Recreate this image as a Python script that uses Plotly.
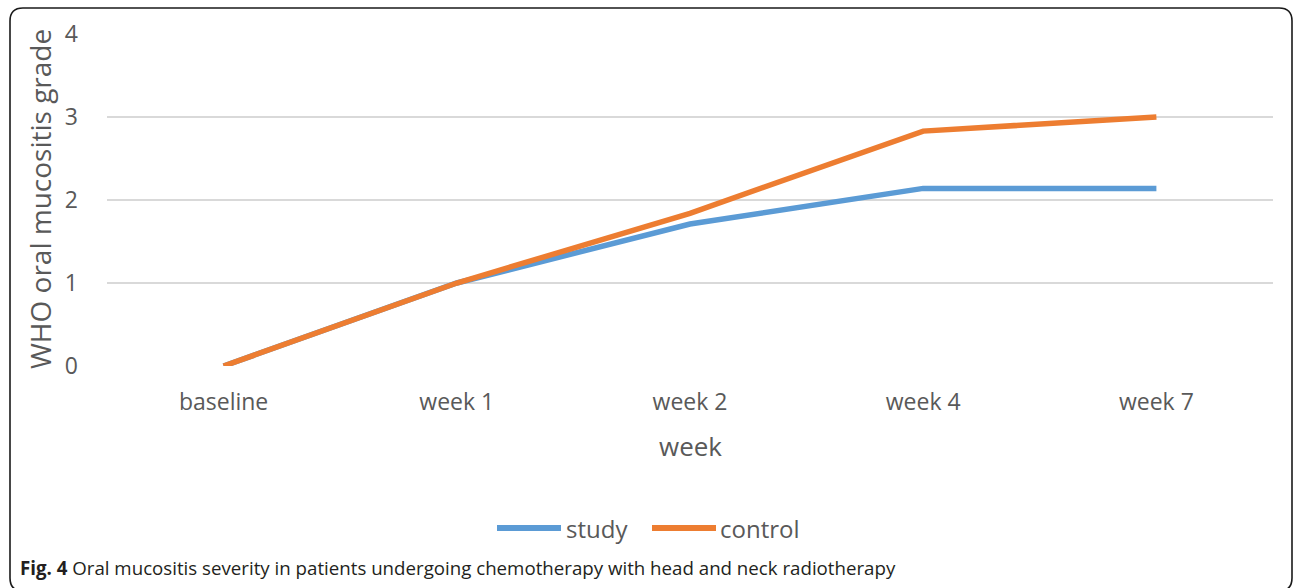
import plotly.graph_objects as go

# Oral mucositis grade by visit
weeks = ["baseline", "week 1", "week 2", "week 4", "week 7"]
study = [0, 1, 1.71, 2.14, 2.14]
control = [0, 1, 1.84, 2.83, 3.0]
y_ticks = [0, 1, 2, 3, 4]

BLUE = "#5b9bd5"
ORANGE = "#ed7d31"
GREY_TEXT = "#595959"
FONT = "Open Sans"

W, H = 1295, 588
L, R, T, B = 107, 1273, 34, 366  # plot area in pixels


def px(x):
    return (x - L) / (R - L)


def py(y):
    return (B - y) / (B - T)


fig = go.Figure()
fig.add_trace(go.Scatter(x=weeks, y=study, mode="lines", name="study",
                         line=dict(color=BLUE, width=5.5)))
fig.add_trace(go.Scatter(x=weeks, y=control, mode="lines", name="control",
                         line=dict(color=ORANGE, width=5.5)))

# rounded frame around the figure
x0, x1, y0, y1, r = 10, 1292, 8, 591, 13
path = (
    f"M {px(x0 + r)},{py(y0)} L {px(x1 - r)},{py(y0)} "
    f"Q {px(x1)},{py(y0)} {px(x1)},{py(y0 + r)} "
    f"L {px(x1)},{py(y1 - r)} Q {px(x1)},{py(y1)} {px(x1 - r)},{py(y1)} "
    f"L {px(x0 + r)},{py(y1)} Q {px(x0)},{py(y1)} {px(x0)},{py(y1 - r)} "
    f"L {px(x0)},{py(y0 + r)} Q {px(x0)},{py(y0)} {px(x0 + r)},{py(y0)} Z"
)
shapes = [dict(type="path", xref="paper", yref="paper", path=path,
               line=dict(color="#1a1a1a", width=1.6), layer="above")]

# legend entries
annotations = []
legend_items = [("study", BLUE, 497, 561, 564), ("control", ORANGE, 652, 716, 718)]
for name, color, lx0, lx1, tx in legend_items:
    shapes.append(dict(type="line", xref="paper", yref="paper",
                       x0=px(lx0), x1=px(lx1), y0=py(528), y1=py(528),
                       line=dict(color=color, width=6)))
    annotations.append(dict(text=name, xref="paper", yref="paper",
                            x=px(tx), y=py(528), xanchor="left", yanchor="middle",
                            showarrow=False, font=dict(family=FONT, size=24, color=GREY_TEXT)))

# axis titles
annotations.append(dict(text="WHO oral mucositis grade", xref="paper", yref="paper",
                        x=px(40), y=py(199), textangle=-90, xanchor="center", yanchor="middle",
                        showarrow=False, font=dict(family=FONT, size=28, color=GREY_TEXT)))
annotations.append(dict(text="week", xref="paper", yref="paper",
                        x=px(690), y=py(446), xanchor="center", yanchor="middle",
                        showarrow=False, font=dict(family=FONT, size=26, color=GREY_TEXT)))

# caption
annotations.append(dict(
    text="<b>Fig. 4</b> Oral mucositis severity in patients undergoing chemotherapy with head and neck radiotherapy",
    xref="paper", yref="paper", x=px(18), y=py(567), xanchor="left", yanchor="middle",
    showarrow=False, font=dict(family=FONT, size=18.7, color="#231f20")))

fig.update_layout(
    width=W, height=H,
    margin=dict(l=L, r=W - R, t=T, b=H - B),
    paper_bgcolor="white", plot_bgcolor="white",
    showlegend=False,
    shapes=shapes,
    annotations=annotations,
    xaxis=dict(type="category", range=[-0.5, 4.5], showgrid=False, zeroline=False,
               showline=False, ticks="", ticklabelstandoff=20,
               tickfont=dict(family=FONT, size=23, color=GREY_TEXT)),
    yaxis=dict(range=[0, 4], tickvals=y_ticks, showgrid=True, gridcolor="#d9d9d9",
               gridwidth=1.5, zeroline=False, showline=False, ticks="",
               ticklabelstandoff=28,
               tickfont=dict(family=FONT, size=23, color=GREY_TEXT)),
)

fig.write_html("out.html")
